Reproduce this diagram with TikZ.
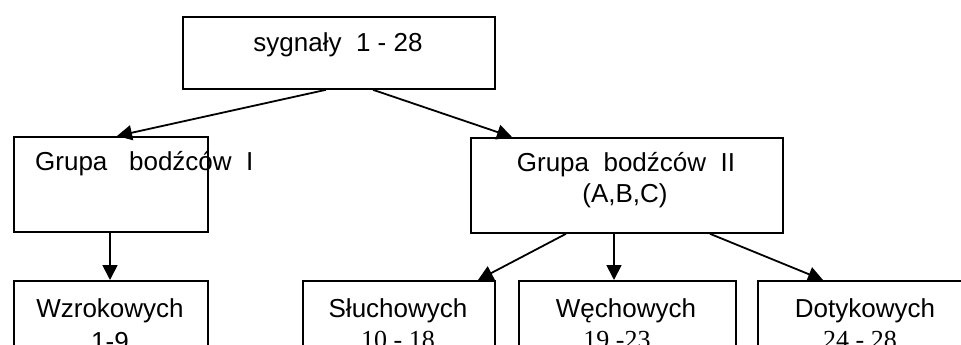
\documentclass[tikz,border=0pt]{standalone}
\usepackage{fontspec}
\setmainfont{Liberation Sans}
\newfontfamily\numserif{Liberation Serif}
\usetikzlibrary{arrows.meta}
\begin{document}
\begin{tikzpicture}[x=1pt,y=-1pt,
  box/.style={draw,line width=1.8pt,rectangle,inner sep=0pt,anchor=north west},
  lbl/.style={inner sep=0pt,anchor=base,font=\fontsize{26}{30}\selectfont},
  num/.style={inner sep=0pt,anchor=base,font=\fontsize{26}{30}\selectfont\numserif},
  arr/.style={line width=1.8pt,-{Triangle[length=15pt,width=15pt]}}]
\useasboundingbox (0,0) rectangle (961,345);
\clip (0,0) rectangle (961,345);
% boxes
\node[box,minimum width=312pt,minimum height=72pt] (top) at (182,16) {};
\node[box,minimum width=194pt,minimum height=95pt] (g1) at (13,136) {};
\node[box,minimum width=312pt,minimum height=95pt] (g2) at (470,137) {};
\node[box,minimum width=194pt,minimum height=90pt] (w) at (13,280) {};
\node[box,minimum width=192pt,minimum height=90pt] (s) at (302,280) {};
\node[box,minimum width=217pt,minimum height=90pt] (e) at (518,280) {};
\node[box,minimum width=220pt,minimum height=90pt] (d) at (757,280) {};
% texts
\node[lbl] (ttop) at (338,52) {sygnały\ \ 1 - 28};
\node[lbl,anchor=base west] (tg1) at (35,170) {Grupa\ \ \ bodźców\ \ I};
\node[lbl] (tg2) at (626,171) {Grupa\ \ bodźców\ \ II};
\node[lbl] (tg2b) at (625,202) {(A,B,C)};
\node[lbl] (tw) at (110,317) {Wzrokowych};
\node[lbl] (tw2) at (110,350) {1-9};
\node[lbl] (ts) at (398,317) {Słuchowych};
\node[num] (ts2) at (398,348) {10 - 18};
\node[lbl] (te) at (626,317) {Węchowych};
\node[num] (te2) at (617,348) {19 -23};
\node[lbl] (td) at (865,317) {Dotykowych};
\node[num] (td2) at (860,348) {24 - 28};
% connectors
\draw[arr] ([xshift=144pt]top.south west) -- ([xshift=104pt]g1.north west);
\draw[arr] ([xshift=191pt]top.south west) -- ([xshift=42pt]g2.north west);
\draw[arr] ([xshift=97pt]g1.south west) -- ([xshift=97pt]w.north west);
\draw[arr] ([xshift=96pt]g2.south west) -- ([xshift=176pt]s.north west);
\draw[arr] ([xshift=144pt]g2.south west) -- ([xshift=96pt]e.north west);
\draw[arr] ([xshift=240pt]g2.south west) -- ([xshift=66pt]d.north west);
\end{tikzpicture}
\end{document}
